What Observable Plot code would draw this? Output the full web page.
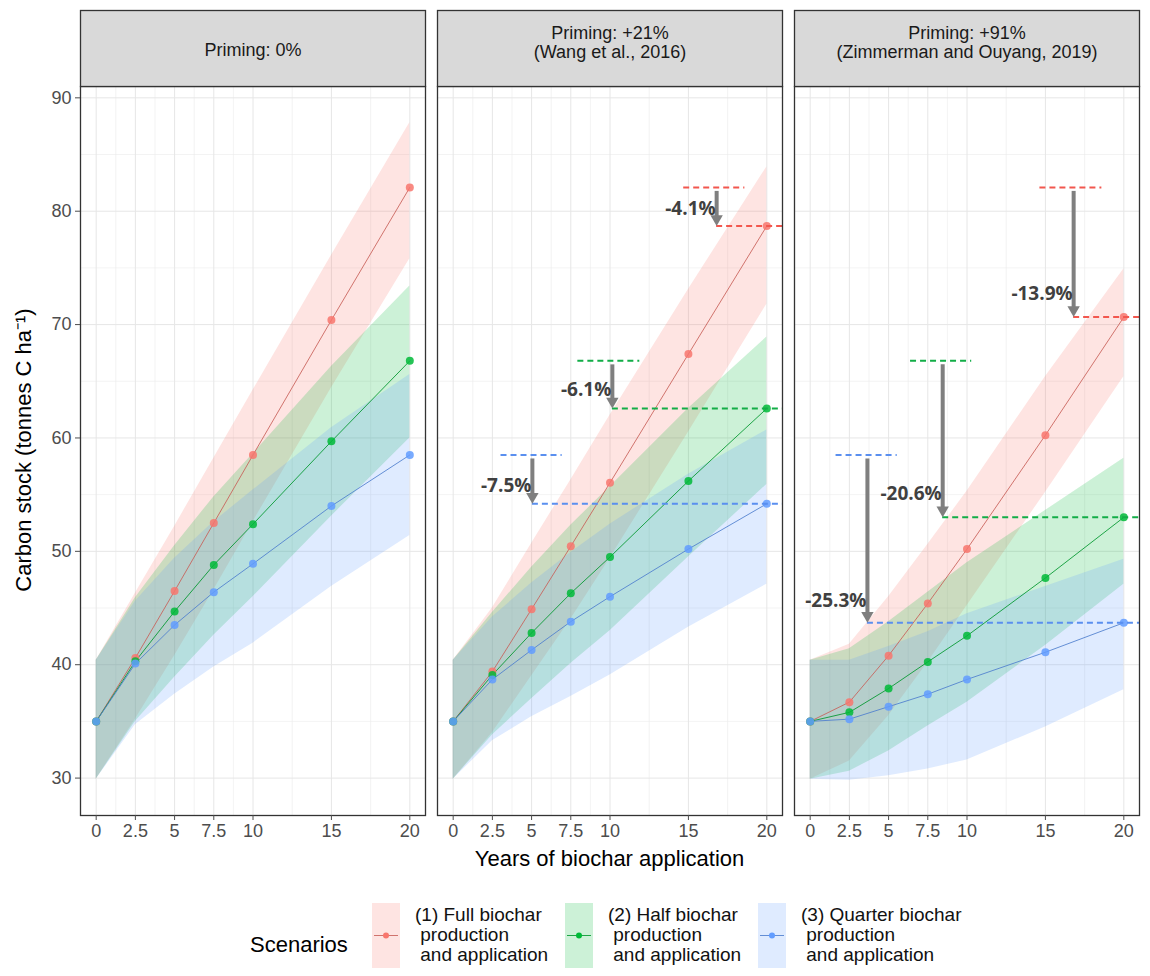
<!DOCTYPE html>
<html>
<head>
<meta charset="utf-8">
<script src="https://cdn.jsdelivr.net/npm/d3@7"></script>
<script src="https://cdn.jsdelivr.net/npm/@observablehq/plot@0.6"></script>
<style>
  body { margin: 0; background: #fff; }
  #wrap { position: relative; width: 1150px; height: 976px; background: #fff; font-family: "Liberation Sans", Arial, sans-serif; }
  #wrap svg { position: absolute; left: 0; top: 0; }
  .ttl { position: absolute; white-space: nowrap; color: #000; font-size: 22px; }
  .key { position: absolute; width: 28px; height: 65px; }
  .ktxt { position: absolute; white-space: pre; font-size: 19px; line-height: 20px; color: #111; }
</style>
</head>
<body>
<div id="wrap"></div>
<script>
// ---------- data ----------
const years = [0, 2.5, 5, 7.5, 10, 15, 20];
const panels = ["Priming: 0%", "Priming: +21%\n(Wang et al., 2016)", "Priming: +91%\n(Zimmerman and Ouyang, 2019)"];
const scenarios = ["(1) Full biochar\n production\n and application", "(2) Half biochar\n production\n and application", "(3) Quarter biochar\n production\n and application"];
const scenarioColors = ["#F8766D", "#00BA38", "#619CFF"];
const dashColors = ["#F2574E", "#12AD47", "#5A8FEF"];

// Priming 0%
const full0 = [35, 40.6, 46.5, 52.5, 58.5, 70.4, 82.1];
const full0Lo = [29.9, 35.2, 40.8, 46.6, 52.6, 64.4, 75.8];
const full0Hi = [40.4, 46.3, 52.2, 58.2, 64.2, 76.1, 87.8];
const half0 = [35, 40.3, 44.7, 48.8, 52.4, 59.7, 66.8];
const half0Lo = [29.9, 35.0, 38.9, 42.6, 46.0, 53.1, 60.0];
const half0Hi = [40.4, 45.9, 50.5, 54.8, 58.6, 66.3, 73.4];
const quarter0 = [35, 40.1, 43.5, 46.4, 48.9, 54.0, 58.5];
const quarter0Lo = [29.9, 34.7, 37.4, 39.8, 41.9, 46.9, 51.4];
const quarter0Hi = [40.4, 45.6, 49.4, 52.6, 55.4, 60.9, 65.6];
// Priming +21%
const full21 = [35, 39.4, 44.9, 50.45, 56.05, 67.4, 78.7];
const full21Lo = [29.9, 34.0, 39.0, 44.0, 49.4, 60.5, 71.8];
const full21Hi = [40.4, 45.0, 50.7, 56.3, 62.0, 73.1, 83.9];
const half21 = [35, 39.1, 42.8, 46.3, 49.5, 56.2, 62.6];
const half21Lo = [29.9, 33.8, 37.0, 40.1, 43.0, 49.5, 55.9];
const half21Hi = [40.4, 44.6, 48.6, 52.3, 55.7, 62.6, 68.9];
const quarter21 = [35, 38.7, 41.3, 43.8, 46.0, 50.2, 54.2];
const quarter21Lo = [29.9, 33.3, 35.4, 37.2, 39.1, 43.3, 47.1];
const quarter21Hi = [40.4, 44.2, 47.2, 49.9, 52.4, 56.8, 60.7];
// Priming +91%
const full91 = [35, 36.7, 40.8, 45.4, 50.2, 60.25, 70.66];
const full91Lo = [29.9, 31.5, 35.5, 40.2, 45.2, 55.2, 65.4];
const full91Hi = [40.4, 41.8, 46.0, 50.6, 55.3, 65.4, 74.9];
const half91 = [35, 35.8, 37.9, 40.25, 42.55, 47.65, 53.0];
const half91Lo = [29.9, 30.6, 32.4, 34.6, 36.7, 41.7, 47.1];
const half91Hi = [40.4, 41.4, 43.8, 46.4, 49.0, 53.6, 58.2];
const quarter91 = [35, 35.2, 36.3, 37.4, 38.7, 41.1, 43.7];
const quarter91Lo = [29.9, 29.8, 30.2, 30.8, 31.6, 34.5, 37.8];
const quarter91Hi = [40.4, 40.4, 41.6, 42.9, 44.5, 46.9, 49.3];

// annotations (reduction vs. no priming at year 20)
const annPanel = [1, 1, 1, 2, 2, 2];
const annScenario = [0, 1, 2, 0, 1, 2];
const annX = [16.8, 10.15, 5.05, 16.8, 8.45, 3.65];
const annTopStart = [14.7, 7.95, 3.05, 14.65, 6.4, 1.65];
const annTopEnd = [18.6, 11.9, 6.95, 18.6, 10.3, 5.55];
const annLabel = ["-4.1%", "-6.1%", "-7.5%", "-13.9%", "-20.6%", "-25.3%"];
const annLabelY = [80.2, 64.2, 55.8, 72.7, 55.1, 45.6];

const xTicks = [0, 2.5, 5, 7.5, 10, 15, 20];
const xMinor = [1.25, 3.75, 6.25, 8.75, 12.5, 17.5];
const yTicks = [30, 40, 50, 60, 70, 80, 90];
const yMinor = [35, 45, 55, 65, 75, 85];

// ---------- build table ----------
const seriesByPanel = [
  [[full0, full0Lo, full0Hi], [half0, half0Lo, half0Hi], [quarter0, quarter0Lo, quarter0Hi]],
  [[full21, full21Lo, full21Hi], [half21, half21Lo, half21Hi], [quarter21, quarter21Lo, quarter21Hi]],
  [[full91, full91Lo, full91Hi], [half91, half91Lo, half91Hi], [quarter91, quarter91Lo, quarter91Hi]]
];
const rows = [];
seriesByPanel.forEach((ser, p) => ser.forEach(([m, lo, hi], s) => years.forEach((x, i) => {
  rows.push({panel: panels[p], s, scenario: scenarios[s], x, mean: m[i], lo: lo[i], hi: hi[i]});
})));
const lineColors = scenarioColors.map(c => d3.color(c).darker(0.6).formatHex());

const ann = annPanel.map((p, i) => {
  const s = annScenario[i];
  const base = seriesByPanel[0][s][0];
  const cur = seriesByPanel[p][s][0];
  return {panel: panels[p], s, x: annX[i], x1: annTopStart[i], x2: annTopEnd[i],
          from: base[base.length - 1], to: cur[cur.length - 1], label: annLabel[i], ly: annLabelY[i]};
});

const xMax = 21;
const stripSingle = panels.filter(p => !p.includes("\n"));
const stripDouble = panels.filter(p => p.includes("\n"));

const chart = Plot.plot({
  width: 1150,
  height: 880,
  marginTop: 86,
  marginBottom: 65,
  marginLeft: 80,
  marginRight: 11,
  style: {fontFamily: "Liberation Sans, Arial, sans-serif", fontSize: "18px", background: "transparent", overflow: "visible"},
  fx: {domain: panels, paddingInner: 0.034, paddingOuter: 0, axis: null},
  x: {domain: [-1, xMax]},
  y: {domain: [26.7, 91]},
  marks: [
    Plot.gridX({ticks: xMinor, stroke: "#ebebeb", strokeOpacity: 1, strokeWidth: 0.6}),
    Plot.gridY({ticks: yMinor, stroke: "#ebebeb", strokeOpacity: 1, strokeWidth: 0.6}),
    Plot.gridX({ticks: xTicks, stroke: "#e6e6e6", strokeOpacity: 1, strokeWidth: 1}),
    Plot.gridY({ticks: yTicks, stroke: "#e6e6e6", strokeOpacity: 1, strokeWidth: 1}),
    Plot.areaY(rows, {fx: "panel", x: "x", y1: "lo", y2: "hi", z: "s", fill: d => scenarioColors[d.s], fillOpacity: 0.2}),
    Plot.line(rows, {fx: "panel", x: "x", y: "mean", z: "s", stroke: d => lineColors[d.s], strokeWidth: 1, strokeOpacity: 0.85}),
    Plot.dot(rows, {fx: "panel", x: "x", y: "mean", r: 4, fill: d => scenarioColors[d.s], fillOpacity: 0.85}),
    Plot.ruleY(ann, {fx: "panel", y: "from", x1: "x1", x2: "x2", stroke: d => dashColors[d.s], strokeWidth: 2, strokeDasharray: "6,4"}),
    Plot.ruleY(ann, {fx: "panel", y: "to", x1: "x", x2: xMax, stroke: d => dashColors[d.s], strokeWidth: 2, strokeDasharray: "6,4"}),
    Plot.ruleX(ann, {fx: "panel", x: "x", y1: "from", y2: "to", stroke: "#7f7f7f", strokeWidth: 4, insetTop: 4, insetBottom: 9}),
    Plot.dot(ann, {fx: "panel", x: "x", y: "to", symbol: "triangle", rotate: 180, r: 4.6, dy: -7.2, fill: "#7f7f7f", stroke: "none"}),
    Plot.text(ann, {fx: "panel", x: "x", y: "ly", text: "label", textAnchor: "end", dx: -1, fontSize: 19, fontWeight: "bold", fontFamily: "Open Sans, Liberation Sans, sans-serif", fill: "#404040"}),
    Plot.frame({stroke: "#333", strokeWidth: 1.3}),
    Plot.frame({fill: "#d9d9d9", stroke: "#333", strokeWidth: 1.3, insetTop: -76, insetBottom: 729}),
    Plot.text(stripSingle, {fx: d => d, text: d => d, frameAnchor: "top", dy: -36, lineAnchor: "middle", fontSize: 18, fill: "#1a1a1a"}),
    Plot.text(stripDouble, {fx: d => d, text: d => d, frameAnchor: "top", dy: -44.5, lineAnchor: "middle", lineHeight: 1.05, fontSize: 18, fill: "#1a1a1a"}),
    Plot.axisX({ticks: xTicks, tickFormat: d => String(d), tickSize: 5, tickPadding: 4, fontSize: 18, color: "#4d4d4d", label: null}),
    Plot.axisY({ticks: yTicks, tickFormat: d => String(d), tickSize: 5, tickPadding: 4, fontSize: 18, color: "#4d4d4d", label: null})
  ]
});

const wrap = document.getElementById("wrap");
wrap.appendChild(chart);

function add(cls, text, style) {
  const d = document.createElement("div");
  d.className = cls;
  d.textContent = text;
  Object.assign(d.style, style);
  wrap.appendChild(d);
  return d;
}
add("ttl", "Carbon stock (tonnes C ha\u207B\u00B9)", {left: "22px", top: "450px", transform: "translate(-50%,-50%) rotate(-90deg)"});
add("ttl", "Years of biochar application", {left: "609.5px", top: "859px", transform: "translate(-50%,-50%)"});
add("ttl", "Scenarios", {left: "250px", top: "932px", fontSize: "22px"});

const keyLeft = [372, 565, 758];
const textLeft = [415, 608, 801];
scenarios.forEach((s, i) => {
  const k = document.createElement("div");
  k.className = "key";
  Object.assign(k.style, {left: keyLeft[i] + "px", top: "903px"});
  const c = scenarioColors[i];
  const fillC = d3.color(c); fillC.opacity = 0.2;
  k.innerHTML = `<svg width="28" height="65" style="position:static"><rect width="28" height="65" fill="${fillC.formatRgb()}"/>
    <line x1="2" x2="26" y1="32.5" y2="32.5" stroke="${lineColors[i]}" stroke-opacity="0.85" stroke-width="1"/>
    <circle cx="14" cy="32.5" r="3" fill="${c}"/></svg>`;
  wrap.appendChild(k);
  add("ktxt", s, {left: textLeft[i] + "px", top: "905px"});
});
</script>
</body>
</html>
